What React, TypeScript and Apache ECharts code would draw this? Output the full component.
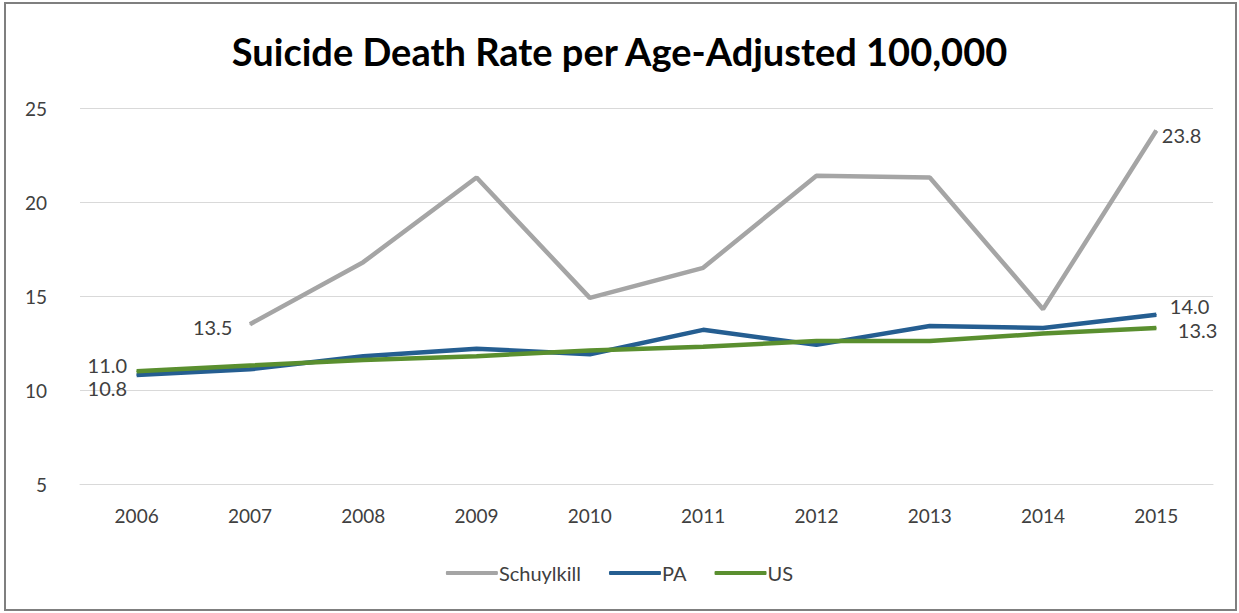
import React, { useEffect, useRef } from "react";
import * as echarts from "echarts";

const years = ["2006", "2007", "2008", "2009", "2010", "2011", "2012", "2013", "2014", "2015"];
const schuylkill: (number | null)[] = [null, 13.5, 16.8, 21.3, 14.9, 16.5, 21.4, 21.3, 14.3, 23.8];
const pa = [10.8, 11.1, 11.8, 12.2, 11.9, 13.2, 12.4, 13.4, 13.3, 14.0];
const us = [11.0, 11.3, 11.6, 11.8, 12.1, 12.3, 12.6, 12.6, 13.0, 13.3];
const yTicks = [5, 10, 15, 20, 25];

const FONT = "Lato, 'Noto Sans', sans-serif";
const labelBase = { show: true, fontSize: 20, lineHeight: 20, color: "#404040", fontFamily: FONT, formatter: (p: any) => Number(p.value).toFixed(1) };

function withLabels(data: (number | null)[], first: any, last: any) {
  return data.map((v, i) => {
    if (v == null) return null;
    if (i === data.length - 1) return { value: v, label: { ...labelBase, ...last } };
    if (first && i === first.index) return { value: v, label: { ...labelBase, ...first.label } };
    return v;
  });
}

export default function App() {
  const ref = useRef<HTMLDivElement>(null);
  useEffect(() => {
    const chart = echarts.init(ref.current!, null, { renderer: "svg" });
    chart.setOption({
      animation: false,
      backgroundColor: "#ffffff",
      title: {
        text: "Suicide Death Rate per Age-Adjusted 100,000",
        left: "center",
        top: 27,
        textStyle: { fontSize: 38, fontWeight: "bold", color: "#000000", fontFamily: FONT },
      },
      graphic: [
        { type: "rect", shape: { x: 5, y: 3, width: 1231, height: 607 }, style: { fill: "none", stroke: "#7f7f7f", lineWidth: 2 }, silent: true },
      ],
      grid: { left: 80, right: 26, top: 108, bottom: 129, containLabel: false },
      legend: {
        bottom: 25,
        left: "center",
        itemWidth: 52,
        itemHeight: 4,
        itemGap: 28,
        icon: "roundRect",
        textStyle: { fontSize: 20, color: "#404040", fontFamily: FONT, padding: [0, 0, 0, -4] },
        data: ["Schuylkill", "PA", "US"],
      },
      xAxis: {
        type: "category",
        data: years,
        boundaryGap: true,
        axisLine: { show: true, lineStyle: { color: "#d9d9d9", width: 1 } },
        axisTick: { show: false },
        axisLabel: { fontSize: 19, color: "#404040", fontFamily: FONT, margin: 22 },
      },
      yAxis: {
        type: "value",
        min: yTicks[0],
        max: yTicks[yTicks.length - 1],
        interval: 5,
        axisLine: { show: false },
        axisTick: { show: false },
        splitLine: { lineStyle: { color: "#d9d9d9", width: 1 } },
        axisLabel: { fontSize: 19, color: "#404040", fontFamily: FONT, margin: 33 },
      },
      series: [
        {
          name: "Schuylkill",
          type: "line",
          data: withLabels(schuylkill, { index: 1, label: { position: "left", offset: [-12, 3] } }, { position: "right", offset: [0, 4] }),
          symbol: "circle",
          symbolSize: 1,
          showSymbol: true,
          connectNulls: false,
          lineStyle: { color: "#a5a5a5", width: 4.5 },
          itemStyle: { color: "#a5a5a5" },
          label: { show: false },
          z: 2,
        },
        {
          name: "PA",
          type: "line",
          data: withLabels(pa, { index: 0, label: { position: "left", offset: [-4, 13] } }, { position: "right", offset: [8, -9] }),
          symbol: "circle",
          symbolSize: 1,
          showSymbol: true,
          lineStyle: { color: "#255e91", width: 4.5 },
          itemStyle: { color: "#255e91" },
          label: { show: false },
          z: 3,
        },
        {
          name: "US",
          type: "line",
          data: withLabels(us, { index: 0, label: { position: "left", offset: [-4, -6] } }, { position: "right", offset: [16, 2] }),
          symbol: "circle",
          symbolSize: 1,
          showSymbol: true,
          lineStyle: { color: "#5a8f2f", width: 4.5 },
          itemStyle: { color: "#5a8f2f" },
          label: { show: false },
          z: 4,
        },
      ],
    });
    return () => chart.dispose();
  }, []);
  return <div ref={ref} style={{ position: "absolute", left: 0, top: 0, width: 1239, height: 613 }} />;
}
